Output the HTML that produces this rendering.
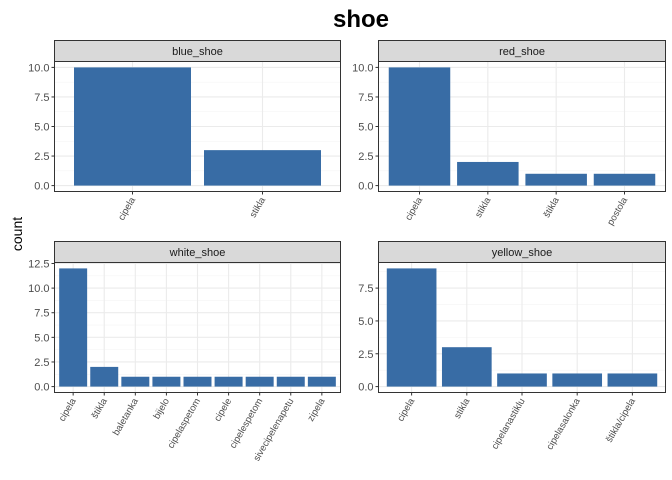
<!DOCTYPE html>
<html><head><meta charset="utf-8"><style>
body{margin:0;background:#fff;}
svg{display:block;font-family:"Liberation Sans",Arial,sans-serif;}
</style></head><body>
<svg id="c" width="672" height="480">
<text x="361" y="27" text-anchor="middle" font-size="24" font-weight="bold" fill="#000">shoe</text>
<text transform="translate(22,234) rotate(-90)" text-anchor="middle" font-size="14" fill="#000">count</text>
</svg>
<script>
const blueCats=["cipela","stikla"];
const blueVals=[10,3];
const redCats=["cipela","stikla","štikla","postola"];
const redVals=[10,2,1,1];
const whiteCats=["cipela","štikla","baletanka","bijelo","cipelaspetom","cipele","cipelespetom","sivecipelenapetu","zipela"];
const whiteVals=[12,2,1,1,1,1,1,1,1];
const yellowCats=["cipela","stikla","cipelanastiklu","cipelasalonka","štikla/cipela"];
const yellowVals=[9,3,1,1,1];
const blueTicks=[0,2.5,5,7.5,10];
const whiteTicks=[0,2.5,5,7.5,10,12.5];
const yellowTicks=[0,2.5,5,7.5];
const ns="http://www.w3.org/2000/svg";
const svg=document.getElementById("c");
function mk(tag,attrs,parent){const e=document.createElementNS(ns,tag);for(const k in attrs)e.setAttribute(k,attrs[k]);(parent||svg).appendChild(e);return e;}
function panel(name,cats,vals,ticks,x0,x1,sy,py0,py1){
  const g=mk("g",{});
  
  
  const max=Math.max(...vals);
  const lo=-0.05*max,hi=max*1.05;
  const y=v=>py1-(v-lo)/(hi-lo)*(py1-py0);
  const n=cats.length;
  const bw=(x1-x0)/(n-1+1.2);
  const x=i=>x0+(0.6+i)*bw;
  mk("rect",{x:x0,y:py0,width:x1-x0,height:py1-py0,fill:"#fff"},g);
  // minor grid
  for(let i=0;i<ticks.length;i++){const m=ticks[i]+1.25;if(m<hi){mk("line",{x1:x0,x2:x1,y1:y(m),y2:y(m),stroke:"#f5f5f5","stroke-width":0.6},g);}}
  for(const t of ticks){mk("line",{x1:x0,x2:x1,y1:y(t),y2:y(t),stroke:"#ebebeb","stroke-width":1.1},g);}
  for(let i=0;i<n;i++){mk("line",{x1:x(i),x2:x(i),y1:py0,y2:py1,stroke:"#ebebeb","stroke-width":1.1},g);}
  for(let i=0;i<n;i++){
    const r=mk("rect",{x:x(i)-0.45*bw,y:y(vals[i]),width:0.9*bw,height:y(0)-y(vals[i]),fill:"#386ca5"},g);
    
    
    mk("line",{x1:x(i),x2:x(i),y1:py1,y2:py1+3,stroke:"#333","stroke-width":1},g);
    const t=mk("text",{transform:`translate(${x(i)+3},${py1+8}) rotate(-60)`,"text-anchor":"end","font-size":9.5,fill:"#4d4d4d"},g);
    t.textContent=cats[i];
    
    
  }
  for(const tk of ticks){
    mk("line",{x1:x0-3,x2:x0,y1:y(tk),y2:y(tk),stroke:"#333","stroke-width":1},g);
    const t=mk("text",{x:x0-5,y:y(tk)+4,"text-anchor":"end","font-size":11,fill:"#4d4d4d"},g);
    t.textContent=tk.toFixed(1);
    
    
  }
  mk("rect",{x:x0,y:py0,width:x1-x0,height:py1-py0,fill:"none",stroke:"#333","stroke-width":1},g);
  const s=mk("rect",{x:x0,y:sy,width:x1-x0,height:py0-sy,fill:"#d9d9d9",stroke:"#333","stroke-width":1},g);
  
  
  const st=mk("text",{x:(x0+x1)/2,y:(sy+py0)/2+4,"text-anchor":"middle","font-size":11,fill:"#1a1a1a"},g);
  st.textContent=name;
  
  
}
panel("blue_shoe",blueCats,blueVals,blueTicks,54.5,340.5,40.5,61.5,191.5);
panel("red_shoe",redCats,redVals,blueTicks,378.5,665.5,40.5,61.5,191.5);
panel("white_shoe",whiteCats,whiteVals,whiteTicks,54.5,340.5,241.5,262.5,392.5);
panel("yellow_shoe",yellowCats,yellowVals,yellowTicks,378.5,665.5,241.5,262.5,392.5);
</script>
</body></html>
